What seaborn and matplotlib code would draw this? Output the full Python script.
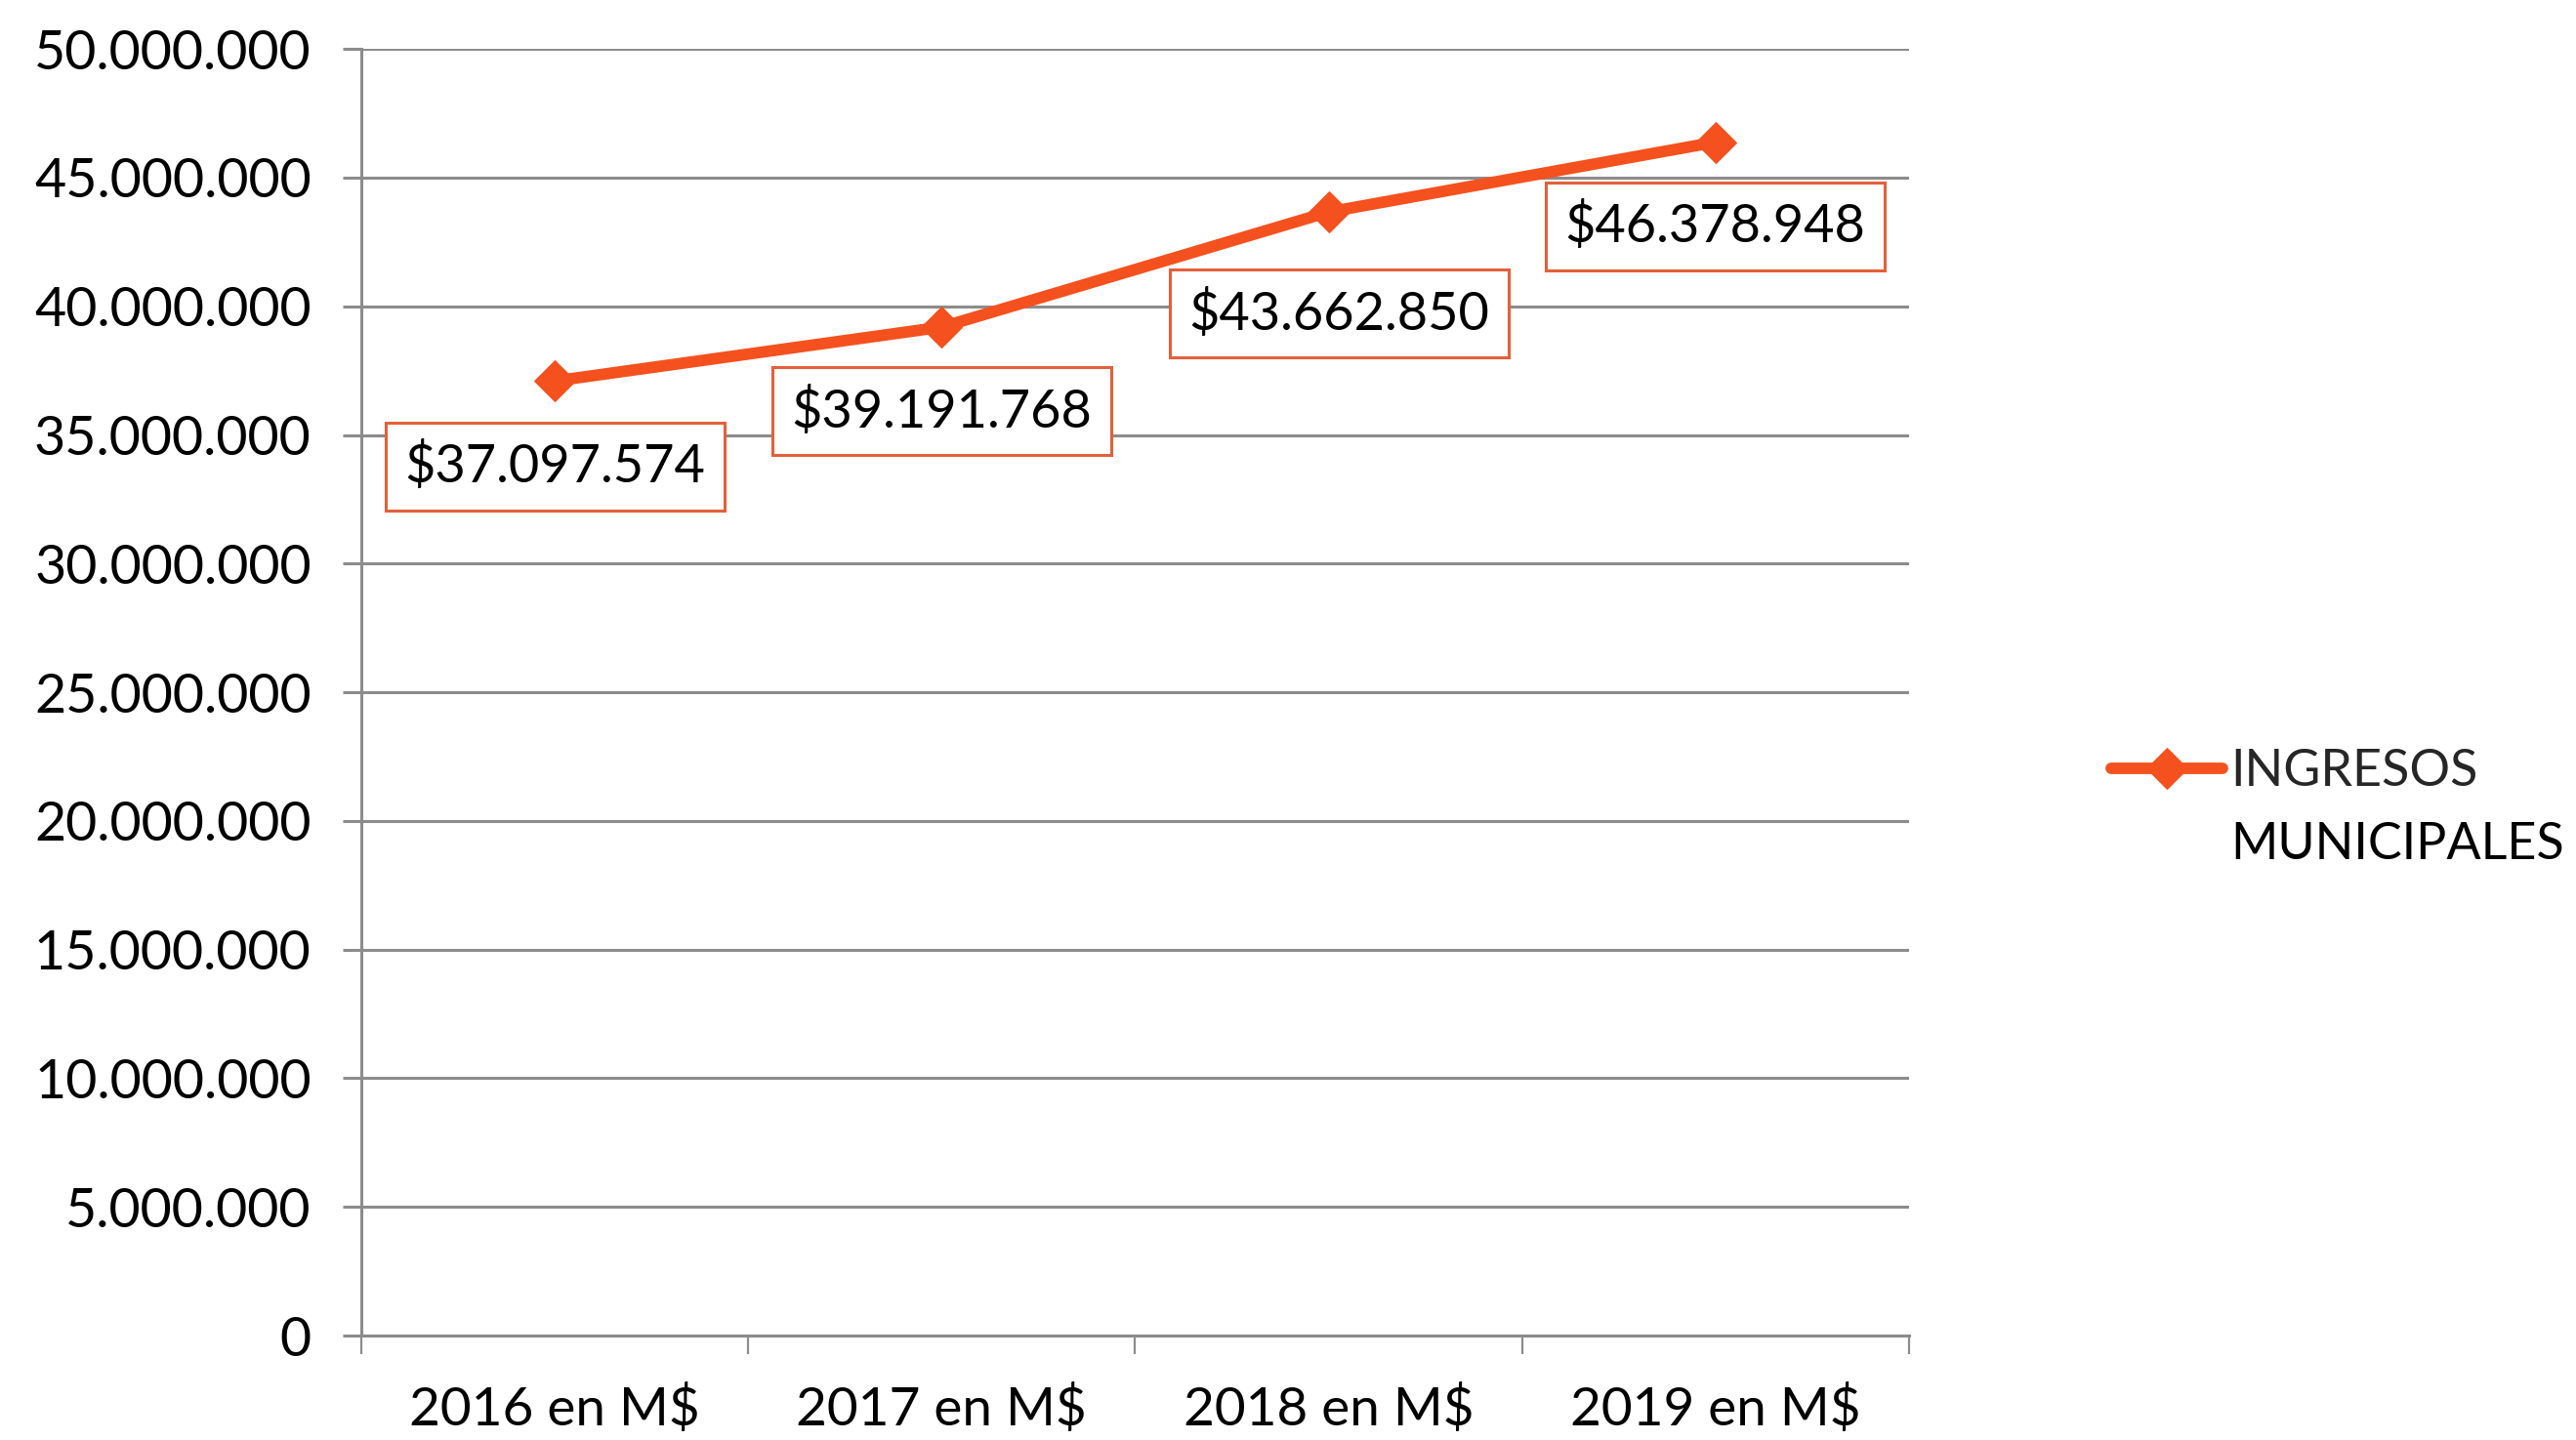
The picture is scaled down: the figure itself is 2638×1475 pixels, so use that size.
import pandas as pd
import matplotlib
matplotlib.use('Agg')
import matplotlib.pyplot as plt
from matplotlib.ticker import FuncFormatter, FixedLocator
import seaborn as sns

# Data
years = ['2016 en M$', '2017 en M$', '2018 en M$', '2019 en M$']
ingresos = [37097574, 39191768, 43662850, 46378948]
serie = ['INGRESOS', 'MUNICIPALES']

df = pd.DataFrame({'Año': years, 'Ingresos': ingresos})

sns.set_style('white')
plt.rcParams['font.family'] = ['Lato', 'DejaVu Sans']

orange = '#F4511E'
box_edge = '#E2603A'
grid_grey = '#8C8C8C'

fig = plt.figure(figsize=(26.38, 14.75), dpi=100)
ax = fig.add_axes([0.1403, 0.0725, 0.741 - 0.1403, 0.966 - 0.0725])

sns.lineplot(data=df, x='Año', y='Ingresos', ax=ax, sort=False,
             color=orange, linewidth=8.5, marker='D', markersize=21,
             markeredgecolor=orange, label=serie[0])

# y axis
ax.set_ylim(0, 50000000)
ax.set_yticks(range(0, 50000001, 5000000))
ax.yaxis.set_major_formatter(FuncFormatter(lambda v, p: f"{int(v):,}".replace(',', '.')))
ax.yaxis.grid(True, color=grid_grey, linewidth=2.2)
ax.set_axisbelow(True)

# x axis: category boundaries get the tick marks
ax.set_xlim(-0.5, len(years) - 0.5)
ax.xaxis.set_minor_locator(FixedLocator([i - 0.5 for i in range(len(years) + 1)]))
ax.tick_params(axis='x', which='major', length=0, pad=36, labelsize=39.5, bottom=True)
ax.tick_params(axis='x', which='minor', length=14, width=1.6, color=grid_grey,
               direction='out', bottom=True)
ax.tick_params(axis='y', which='major', length=14, width=2.2, color=grid_grey,
               pad=23, labelsize=40, left=True, direction='out')
ax.tick_params(axis='both', labelcolor='black')
ax.set_xlabel('')
ax.set_ylabel('')

for s in ['top', 'right']:
    ax.spines[s].set_visible(False)
ax.spines['left'].set_color(grid_grey)
ax.spines['left'].set_linewidth(2.2)
ax.spines['bottom'].set_color(grid_grey)
ax.spines['bottom'].set_linewidth(2.2)

# data labels
offsets = [(0, -63), (0, -62), (8, -75), (0, -62)]
for i, (v, off) in enumerate(zip(ingresos, offsets)):
    txt = '$' + f"{v:,}".replace(',', '.')
    ax.annotate(txt, xy=(i, v), xytext=off, textcoords='offset points',
                ha='center', va='center', fontsize=39, color='black',
                bbox=dict(boxstyle='square,pad=0.36', fc='white', ec=box_edge, lw=2.2))

# legend (first line of the label next to the handle, second line below it)
leg = ax.legend(loc='center left', bbox_to_anchor=(0.8195, 0.464),
                bbox_transform=fig.transFigure, frameon=False,
                fontsize=37.5, handlelength=2.2, handletextpad=0.15,
                borderaxespad=0, borderpad=0)
fig.canvas.draw()
bb = leg.get_texts()[0].get_window_extent().transformed(fig.transFigure.inverted())
fig.text(bb.x0, bb.y0 - 0.0505, serie[1], fontsize=37.5, color='black',
         ha='left', va='bottom')

fig.savefig('out.png', dpi=100)
